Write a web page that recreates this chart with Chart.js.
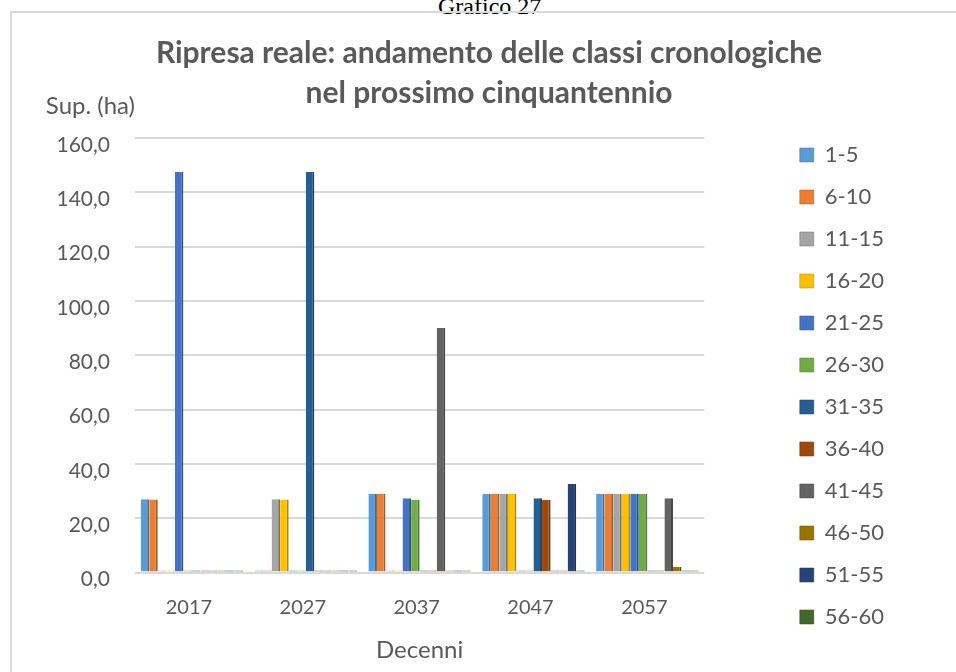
<!DOCTYPE html>
<html lang="it">
<head>
<meta charset="utf-8">
<title>Grafico 27</title>
<script src="https://cdn.jsdelivr.net/npm/chart.js@4.4.1/dist/chart.umd.min.js"></script>
<style>
  html, body { margin: 0; padding: 0; background: #fff; overflow: hidden; }
  body { width: 956px; height: 672px; position: relative; }
  #didascalia {
    position: absolute; left: 438px; top: -6px;
    font: 24px "Liberation Serif", serif; line-height: 24px; color: #000;
    white-space: nowrap;
  }
  #cornice {
    position: absolute; left: 10px; top: 11px; width: 960px; height: 680px;
    border-left: 2px solid #d9d9d9; border-top: 2px solid #d9d9d9;
  }
  #box { position: absolute; left: 11px; top: 12px; width: 956px; height: 660px; }
</style>
</head>
<body>
<div id="didascalia">Grafico 27</div>
<div id="cornice"></div>
<div id="box"><canvas id="grafico"></canvas></div>

<script>
// Decenni e classi cronologiche
var decenni = ["2017", "2027", "2037", "2047", "2057"];
var classi = ["1-5", "6-10", "11-15", "16-20", "21-25", "26-30",
              "31-35", "36-40", "41-45", "46-50", "51-55", "56-60"];

// Superficie (ha) di ogni classe per decennio
var c1_5   = [27.0, 0, 29.0, 29.0, 29.0];
var c6_10  = [26.9, 0, 29.0, 29.0, 29.0];
var c11_15 = [0, 27.0, 0, 29.0, 29.0];
var c16_20 = [0, 26.9, 0, 29.0, 29.0];
var c21_25 = [147.5, 0, 27.3, 0, 29.0];
var c26_30 = [0, 0, 26.8, 0, 29.0];
var c31_35 = [0, 147.5, 0, 27.3, 0];
var c36_40 = [0, 0, 0, 26.8, 0];
var c41_45 = [0, 0, 90.0, 0, 27.3];
var c46_50 = [0, 0, 0, 0, 2.0];
var c51_55 = [0, 0, 0, 32.6, 0];
var c56_60 = [0, 0, 0, 0, 0];

var serie = [c1_5, c6_10, c11_15, c16_20, c21_25, c26_30,
             c31_35, c36_40, c41_45, c46_50, c51_55, c56_60];

var tickY = [0, 20, 40, 60, 80, 100, 120, 140, 160];

// colori frontali e del lato in ombra
var colori = ["#5B9BD5", "#ED7D31", "#A5A5A5", "#FFC000", "#4472C4", "#70AD47",
              "#255E91", "#9E480E", "#636363", "#997300", "#264478", "#43682B"];
var ombre  = ["#406D95", "#A65822", "#737373", "#B38600", "#305089", "#4E7932",
              "#1A4266", "#6F320A", "#454545", "#6B5100", "#1B3054", "#2F491E"];

Chart.defaults.font.family = "Lato, 'Open Sans', sans-serif";
Chart.defaults.color = "#595959";

var datasets = classi.map(function(nome, i) {
    return {
        label: nome,
        data: serie[i],
        backgroundColor: colori[i],
        borderColor: ombre[i],
        borderWidth: { top: 0, right: 2, bottom: 0, left: 0 },
        borderSkipped: false,
        minBarLength: 2
    };
});

// etichetta dell'asse verticale, in orizzontale sopra le tacche
var etichettaAsse = {
    id: "etichettaAsse",
    afterDraw: function(chart) {
        var ctx = chart.ctx;
        var area = chart.chartArea;
        ctx.save();
        ctx.font = "24px Lato, 'Open Sans', sans-serif";
        ctx.fillStyle = "#595959";
        ctx.textAlign = "right";
        ctx.textBaseline = "middle";
        ctx.fillText("Sup. (ha)", area.left, area.top - 32);
        ctx.restore();
    }
};

// asse vuoto che serve solo a riservare spazio orizzontale
function spazio(larghezza, peso) {
    return {
        type: "linear",
        position: "right",
        weight: peso,
        grid: { display: false, drawTicks: false },
        border: { display: false },
        ticks: { display: false },
        afterFit: function(scale) { scale.width = larghezza; }
    };
}

var ctx = document.getElementById("grafico").getContext("2d");
var chart = new Chart(ctx, {
    type: "bar",
    data: { labels: decenni, datasets: datasets },
    plugins: [etichettaAsse],
    options: {
        responsive: true,
        maintainAspectRatio: false,
        animation: false,
        layout: { padding: 0 },
        datasets: {
            bar: { categoryPercentage: 0.9, barPercentage: 1.0 }
        },
        plugins: {
            title: {
                display: true,
                text: ["Ripresa reale: andamento delle classi cronologiche",
                       "nel prossimo cinquantennio"],
                color: "#595959",
                font: { size: 30, weight: "bold", lineHeight: 1.333 },
                padding: { top: 21, bottom: 25 }
            },
            legend: {
                position: "right",
                align: "start",
                title: { display: true, text: "", font: { size: 12, lineHeight: 1 }, padding: { top: 100, bottom: 0 } },
                labels: {
                    boxWidth: 14,
                    boxHeight: 14,
                    padding: 20,
                    color: "#595959",
                    font: { size: 22 }
                }
            },
            tooltip: { enabled: false }
        },
        scales: {
            x: {
                afterFit: function(scale) { scale.height = 99.5; },
                grid: { display: false, drawTicks: false },
                border: { display: false },
                ticks: { padding: 23, labelOffset: -3, font: { size: 20 }, color: "#595959" },
                title: {
                    display: true,
                    text: "Decenni",
                    color: "#595959",
                    font: { size: 24 },
                    padding: { top: 19, bottom: 7 }
                }
            },
            y: {
                min: 0,
                max: 160,
                afterBuildTicks: function(scale) {
                    scale.ticks = tickY.map(function(v) { return { value: v }; });
                },
                afterFit: function(scale) { scale.width = 124; },
                grid: { color: "#d9d9d9", lineWidth: 2, drawTicks: false },
                border: { display: false },
                ticks: {
                    padding: 25,
                    labelOffset: 7,
                    font: { size: 21 },
                    color: "#595959",
                    callback: function(v) { return v.toFixed(1).replace(".", ","); }
                }
            },
            // tra area del grafico e legenda, e dopo la legenda
            interno: spazio(75.5, 0),
            esterno: spazio(73, 2000)
        }
    }
});
</script>
</body>
</html>
